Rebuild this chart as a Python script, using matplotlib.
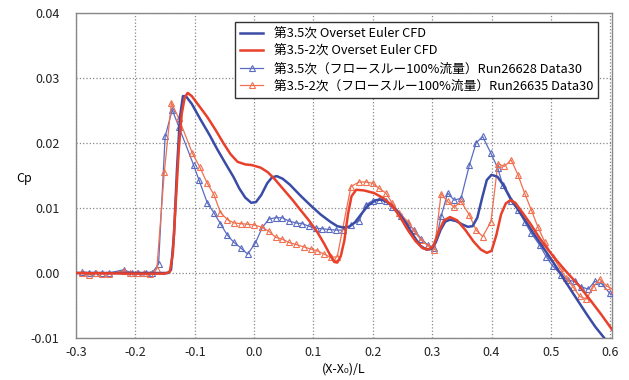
import numpy as np
import matplotlib
matplotlib.use("Agg")
import matplotlib.pyplot as plt
from matplotlib.ticker import FormatStrFormatter, MultipleLocator

plt.rcParams['font.family'] = ['Noto Sans CJK JP', 'DejaVu Sans']

# CFD (第3.5次 / 第3.5-2次)
cfd_a_x = [-0.30, -0.20, -0.145, -0.140, -0.135, -0.130, -0.125, -0.120, -0.115, -0.105,
           -0.091, -0.075, -0.062, -0.048, -0.035, -0.025, -0.015, -0.005, 0.003, 0.012,
           0.022, 0.030, 0.038, 0.048, 0.060, 0.078, 0.095, 0.112, 0.128, 0.140,
           0.150, 0.160, 0.170, 0.180, 0.192, 0.205, 0.215, 0.228, 0.240, 0.255,
           0.268, 0.280, 0.290, 0.298, 0.306, 0.314, 0.322, 0.330, 0.340, 0.350,
           0.360, 0.368, 0.376, 0.384, 0.392, 0.400, 0.410, 0.420, 0.432, 0.445,
           0.456, 0.470, 0.490, 0.505, 0.523, 0.540, 0.560, 0.575, 0.590, 0.600]
cfd_a_y = [0.0000, 0.0000, 0.0000, 0.0005, 0.0060, 0.0160, 0.0240, 0.0272, 0.0272, 0.0260,
           0.0237, 0.0212, 0.0190, 0.0168, 0.0148, 0.0130, 0.0116, 0.0108, 0.0109, 0.0120,
           0.0138, 0.0147, 0.0149, 0.0145, 0.0136, 0.0119, 0.0104, 0.0090, 0.0079, 0.0072,
           0.0070, 0.0071, 0.0078, 0.0090, 0.0104, 0.0112, 0.0113, 0.0107, 0.0096, 0.0078,
           0.0058, 0.0042, 0.0036, 0.0037, 0.0047, 0.0066, 0.0079, 0.0082, 0.0080, 0.0075,
           0.0071, 0.0072, 0.0085, 0.0115, 0.0143, 0.0151, 0.0148, 0.0135, 0.0115, 0.0097,
           0.0082, 0.0062, 0.0035, 0.0015, -0.0011, -0.0035, -0.0063, -0.0083, -0.0100, -0.0113]

cfd_b_x = [-0.30, -0.20, -0.150, -0.142, -0.137, -0.132, -0.127, -0.122, -0.117, -0.112,
           -0.105, -0.092, -0.079, -0.065, -0.052, -0.040, -0.028, -0.015, -0.004, 0.011,
           0.023, 0.035, 0.050, 0.065, 0.078, 0.093, 0.107, 0.118, 0.129, 0.135,
           0.140, 0.146, 0.152, 0.158, 0.164, 0.172, 0.185, 0.202, 0.218, 0.232,
           0.246, 0.259, 0.272, 0.284, 0.294, 0.302, 0.312, 0.320, 0.330, 0.342,
           0.356, 0.370, 0.382, 0.392, 0.400, 0.408, 0.416, 0.424, 0.432, 0.440,
           0.452, 0.466, 0.480, 0.495, 0.510, 0.525, 0.546, 0.565, 0.585, 0.603]
cfd_b_y = [0.0000, -0.0001, -0.0001, 0.0002, 0.0030, 0.0110, 0.0190, 0.0245, 0.0270, 0.0277,
           0.0272, 0.0256, 0.0240, 0.0220, 0.0200, 0.0183, 0.0171, 0.0167, 0.0166, 0.0162,
           0.0155, 0.0144, 0.0128, 0.0112, 0.0097, 0.0080, 0.0062, 0.0045, 0.0026, 0.0017,
           0.0016, 0.0026, 0.0050, 0.0090, 0.0118, 0.0128, 0.0127, 0.0123, 0.0115, 0.0104,
           0.0086, 0.0066, 0.0049, 0.0038, 0.0036, 0.0042, 0.0066, 0.0081, 0.0086, 0.0081,
           0.0066, 0.0048, 0.0036, 0.0031, 0.0034, 0.0058, 0.0090, 0.0107, 0.0112, 0.0108,
           0.0093, 0.0075, 0.0055, 0.0036, 0.0019, 0.0003, -0.0018, -0.0040, -0.0064, -0.0087]

# 風洞試験 Run26628 / Run26635
exp_a_x = [-0.290, -0.279, -0.268, -0.257, -0.244, -0.220, -0.206, -0.195, -0.183, -0.172,
           -0.161, -0.150, -0.138, -0.127, -0.102, -0.093, -0.079, -0.068, -0.057, -0.045,
           -0.034, -0.023, -0.011, 0.002, 0.0137, 0.025, 0.036, 0.047, 0.0586, 0.070,
           0.081, 0.092, 0.104, 0.115, 0.126, 0.1375, 0.149, 0.163, 0.177, 0.188,
           0.1995, 0.211, 0.222, 0.233, 0.247, 0.2586, 0.270, 0.281, 0.2925, 0.3036,
           0.315, 0.326, 0.337, 0.3486, 0.3627, 0.374, 0.385, 0.399, 0.4106, 0.419,
           0.433, 0.4445, 0.4556, 0.467, 0.481, 0.4922, 0.5036, 0.5176, 0.5289, 0.540,
           0.551, 0.5627, 0.574, 0.585, 0.599, 0.610]
exp_a_y = [0.0002, 0.0000, 0.0000, 0.0000, 0.0000, 0.0005, 0.0000, 0.0000, 0.0000, 0.0000,
           0.0014, 0.0210, 0.0251, 0.0225, 0.0166, 0.0143, 0.0108, 0.0093, 0.0076, 0.0058,
           0.0047, 0.0039, 0.0029, 0.0046, 0.0070, 0.0083, 0.0085, 0.0085, 0.0080, 0.0077,
           0.0076, 0.0072, 0.0069, 0.0068, 0.0067, 0.0066, 0.0066, 0.0074, 0.0080, 0.0105,
           0.0111, 0.0112, 0.0111, 0.0101, 0.0087, 0.0076, 0.0066, 0.0053, 0.0043, 0.0038,
           0.0087, 0.0123, 0.0112, 0.0115, 0.0166, 0.0200, 0.0210, 0.0184, 0.0161, 0.0135,
           0.0110, 0.0097, 0.0079, 0.0061, 0.0043, 0.0025, 0.0010, -0.0003, -0.0011, -0.0013,
           -0.0021, -0.0025, -0.0013, -0.0016, -0.0031, -0.0038]

exp_b_x = [-0.290, -0.279, -0.267, -0.256, -0.244, -0.220, -0.209, -0.197, -0.186, -0.175,
           -0.164, -0.1514, -0.1395, -0.127, -0.104, -0.0917, -0.079, -0.068, -0.0568, -0.045,
           -0.034, -0.023, -0.0117, 0.0005, 0.0137, 0.025, 0.036, 0.0475, 0.0586, 0.070,
           0.084, 0.095, 0.1066, 0.118, 0.129, 0.140, 0.163, 0.177, 0.188, 0.1995,
           0.2106, 0.222, 0.233, 0.2445, 0.2586, 0.270, 0.281, 0.2925, 0.3036, 0.315,
           0.326, 0.337, 0.3486, 0.3627, 0.374, 0.385, 0.399, 0.4106, 0.4218, 0.433,
           0.4445, 0.4556, 0.467, 0.478, 0.4895, 0.5036, 0.5147, 0.526, 0.537, 0.5486,
           0.560, 0.571, 0.582, 0.594, 0.606]
exp_b_y = [0.0000, -0.0003, 0.0000, -0.0001, -0.0001, 0.0003, 0.0000, 0.0000, 0.0000, -0.0002,
           0.0006, 0.0155, 0.0262, 0.0238, 0.0184, 0.0163, 0.0138, 0.0121, 0.0093, 0.0082,
           0.0077, 0.0076, 0.0075, 0.0074, 0.0070, 0.0064, 0.0055, 0.0052, 0.0047, 0.0044,
           0.0040, 0.0037, 0.0034, 0.0029, 0.0024, 0.0025, 0.0133, 0.0140, 0.0140, 0.0138,
           0.0130, 0.0123, 0.0107, 0.0093, 0.0079, 0.0064, 0.0051, 0.0042, 0.0036, 0.0122,
           0.0110, 0.0101, 0.0110, 0.0089, 0.0066, 0.0056, 0.0079, 0.0168, 0.0164, 0.0174,
           0.0151, 0.0123, 0.0097, 0.0071, 0.0048, 0.0025, 0.0008, -0.0008, -0.0021, -0.0036,
           -0.0040, -0.0022, -0.0009, -0.0020, -0.0026]

labels = ["第3.5次 Overset Euler CFD",
          "第3.5-2次 Overset Euler CFD",
          "第3.5次（フロースルー100%流量）Run26628 Data30",
          "第3.5-2次（フロースルー100%流量）Run26635 Data30"]

blue = '#3a4ca6'
red = '#e8402a'
blue_exp = '#5a6cc2'
red_exp = '#f0704f'

fig = plt.figure(figsize=(6.29, 3.80), dpi=100)
ax = fig.add_axes([0.121, 0.1105, 0.852, 0.8555])

ax.plot(cfd_a_x, cfd_a_y, color=blue, lw=1.8, label=labels[0], zorder=4)
ax.plot(cfd_b_x, cfd_b_y, color=red, lw=1.8, label=labels[1], zorder=4)
ax.plot(exp_a_x, exp_a_y, color=blue_exp, lw=0.9, marker='^', ms=4.5,
        mfc='none', mew=0.8, label=labels[2], zorder=3)
ax.plot(exp_b_x, exp_b_y, color=red_exp, lw=0.9, marker='^', ms=4.5,
        mfc='none', mew=0.8, label=labels[3], zorder=3)

ax.set_xlim(-0.3, 0.603)
ax.set_ylim(-0.01, 0.04)
ax.xaxis.set_major_locator(MultipleLocator(0.1))
ax.yaxis.set_major_locator(MultipleLocator(0.01))
ax.xaxis.set_major_formatter(FormatStrFormatter('%.1f'))
ax.yaxis.set_major_formatter(FormatStrFormatter('%.2f'))
ax.tick_params(axis='both', length=0, labelsize=9, colors='#222222')
ax.tick_params(axis='y', pad=12)
ax.tick_params(axis='x', pad=6)
ax.grid(True, linestyle=':', color='#888888', linewidth=0.9)
for s in ax.spines.values():
    s.set_color('#888888')
    s.set_linewidth(1.0)

ax.set_xlabel("(X-X₀)/L", fontsize=9, labelpad=2)
ax.set_ylabel("Cp", fontsize=9, rotation=0, va='center', ha='center')
ax.yaxis.set_label_coords(-0.097, 0.49)

leg = ax.legend(loc='upper right', bbox_to_anchor=(0.974, 0.972), borderaxespad=0,
                fontsize=9.2, fancybox=False, framealpha=1, edgecolor='#333333',
                handlelength=1.8, labelspacing=0.35)
leg.get_frame().set_linewidth(1.0)

plt.savefig('out.png', dpi=100)
